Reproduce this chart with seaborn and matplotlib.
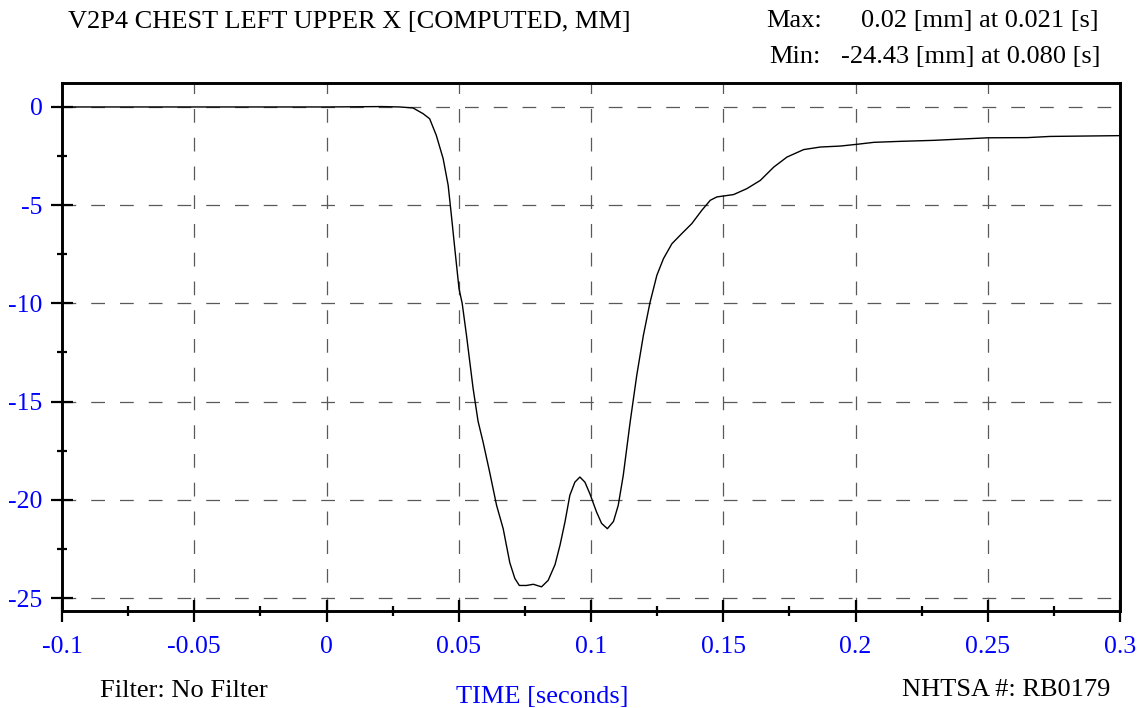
import pandas as pd
import seaborn as sns
import matplotlib.pyplot as plt
from matplotlib.ticker import MultipleLocator

# Values
time_s = [-0.1, -0.05, 0.0, 0.021, 0.0277, 0.0327, 0.0365, 0.0390, 0.0415,
          0.0441, 0.046, 0.0472, 0.0485, 0.0501, 0.0513, 0.0529, 0.0554,
          0.0573, 0.0592, 0.0617, 0.0643, 0.0668, 0.0693, 0.0712, 0.0729,
          0.0756, 0.0782, 0.0813, 0.0838, 0.0864, 0.0883, 0.0902, 0.0920,
          0.0939, 0.0958, 0.0977, 0.0996, 0.1021, 0.1040, 0.1062, 0.1085,
          0.1103, 0.1122, 0.1148, 0.1173, 0.1198, 0.1223, 0.1249, 0.1274,
          0.1306, 0.1343, 0.1381, 0.1419, 0.1451, 0.1476, 0.1539, 0.1589,
          0.1640, 0.1691, 0.1741, 0.1804, 0.1867, 0.1943, 0.2006, 0.2070,
          0.2170, 0.2295, 0.25, 0.265, 0.2736, 0.3]
chest_mm = [0.0, 0.0, 0.0, 0.02, 0.0, -0.05, -0.34, -0.6, -1.44,
            -2.63, -3.99, -5.5, -7.2, -9.25, -10.0, -11.6, -14.3,
            -16.0, -17.06, -18.6, -20.28, -21.47, -23.2, -24.0, -24.36,
            -24.36, -24.3, -24.43, -24.1, -23.3, -22.3, -21.1, -19.77,
            -19.1, -18.84, -19.1, -19.7, -20.62, -21.2, -21.47, -21.1,
            -20.28, -18.75, -16.04, -13.66, -11.63, -9.96, -8.57, -7.72,
            -6.96, -6.45, -5.94, -5.26, -4.75, -4.58, -4.46, -4.16,
            -3.74, -3.06, -2.55, -2.17, -2.04, -1.99, -1.90, -1.80,
            -1.75, -1.7, -1.57, -1.56, -1.5, -1.46]

x_ticks = [-0.1, -0.05, 0, 0.05, 0.1, 0.15, 0.2, 0.25, 0.3]
x_labels = ['-0.1', '-0.05', '0', '0.05', '0.1', '0.15', '0.2', '0.25', '0.3']
y_ticks = [0, -5, -10, -15, -20, -25]
y_labels = ['0', '-5', '-10', '-15', '-20', '-25']

df = pd.DataFrame({'time': time_s, 'disp': chest_mm})

sns.set_style('white')
plt.rcParams['font.family'] = ['Liberation Serif', 'DejaVu Serif']
plt.rcParams['text.color'] = 'black'

W, H = 1144, 708
fig = plt.figure(figsize=(W / 100, H / 100), dpi=100)
ax = fig.add_axes([62 / W, 1 - 611 / H, (1120 - 62) / W, (611 - 83) / H])

sns.lineplot(data=df, x='time', y='disp', ax=ax, color='black', lw=1.0)

ax.set_xlim(-0.1, 0.3)
ax.set_ylim(-25.66, 1.22)
ax.set_xticks(x_ticks)
ax.set_xticklabels(x_labels)
ax.set_yticks(y_ticks)
ax.set_yticklabels(y_labels)
ax.xaxis.set_minor_locator(MultipleLocator(0.025))
ax.yaxis.set_minor_locator(MultipleLocator(2.5))
ax.set_xlabel('')
ax.set_ylabel('')

ax.grid(True, which='major', color='0.35', lw=0.9, ls=(0, (11, 12)))
ax.tick_params(which='major', direction='inout', length=16, width=1.6,
               colors='black', labelcolor='#0000ff', labelsize=18.5)
ax.tick_params(axis='x', which='major', pad=10)
ax.tick_params(axis='y', which='major', pad=6)
ax.tick_params(which='minor', direction='inout', length=7, width=1.6, color='black')
ax.tick_params(axis='both', which='both', bottom=True, left=True, top=False, right=False)

for sp in ax.spines.values():
    sp.set_linewidth(2.1)
    sp.set_color('black')

def put(x, y, s, **kw):
    kw.setdefault('color', 'black')
    fig.text(x / W, 1 - y / H, s, fontsize=19, va='baseline', **kw)

put(68, 28, 'V2P4 CHEST LEFT UPPER X [COMPUTED, MM]')
put(766, 27, 'Max:')
put(861, 27, '0.02 [mm] at 0.021 [s]')
put(769, 63, 'Min:')
put(841, 63, '-24.43 [mm] at 0.080 [s]')
put(100, 697, 'Filter: No Filter')
put(542, 703, 'TIME [seconds]', ha='center', color='#0000ff')
put(902, 696, 'NHTSA #: RB0179')

fig.savefig('out.png', dpi=100, facecolor='white')
